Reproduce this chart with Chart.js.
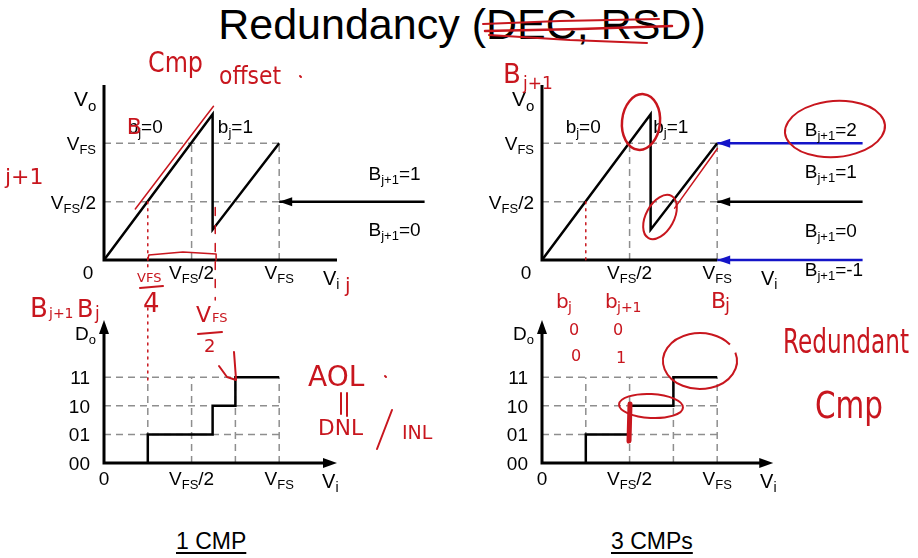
<!DOCTYPE html>
<html>
<head>
<meta charset="utf-8">
<script src="https://cdn.jsdelivr.net/npm/chart.js@4.4.1/dist/chart.umd.min.js"></script>
<style>
  html, body { margin: 0; padding: 0; background: #fff; }
  body { width: 918px; height: 558px; position: relative; overflow: hidden; font-family: "Liberation Sans", Arial, sans-serif; }
  canvas { position: absolute; left: 0; top: 0; }
  #title { position: absolute; top: 3px; left: 0; width: 924px; text-align: center; font-size: 43px; line-height: 43px; color: #000; }
  .cap { position: absolute; top: 530px; font-size: 23px; line-height: 23px; text-decoration: underline; text-underline-offset: 3px; }
</style>
</head>
<body>
<div id="title">Redundancy (DEC, RSD)</div>
<div class="cap" style="left:176px">1 CMP</div>
<div class="cap" style="left:611px">3 CMPs</div>
<canvas id="chartD" width="918" height="558"></canvas>
<canvas id="chartC" width="918" height="558"></canvas>
<canvas id="chartB" width="918" height="558"></canvas>
<canvas id="chartA" width="918" height="558"></canvas>
<script>
// ---- data: x = Vi / VFS, y = Vo / VFS ----
const residueVi = [0, 0.62, 0.62, 1];
const residueVo = [0, 1.25, 0.26, 1];
const bitNames = ['0', '1'];

// levels the next stage decides on (arrows), and the codes between them
const arrowTail = 1.83;
const oneCmpLevels = [0.5];
const oneCmpCodes = ['1', '0'];
const threeCmpLevels = [1, 0.5, 0];
const threeCmpCodes = ['2', '1', '0', '-1'];

// digital output
const codeNames = ['00', '01', '10', '11'];
const oneCmpSteps = [0.25, 0.62, 0.75];
const threeCmpSteps = [0.25, 0.5, 0.75];

const vfsTicks = [0.5, 1];
const vfsTickText = [['V', 'FS', '/2'], ['V', 'FS']];
const quarterTicks = [0.25, 0.5, 0.75, 1];

const FONT = '"Liberation Sans", Arial, sans-serif';
const HAND = '"DejaVu Sans", sans-serif';
const RED = '#c8161e';
const BLUE = '#1414c8';
const GUIDE = '#8e8e8e';

// per-canvas overlay drawing (axes, labels, pen notes)
const overlays = {};

// text with alternating normal / subscript parts
function rich(ctx, parts, x, y, align, size) {
    size = size || 19;
    const sub = Math.round(size * 0.7);
    let w = 0;
    parts.forEach((p, i) => {
        ctx.font = (i % 2 ? sub : size) + 'px ' + FONT;
        w += ctx.measureText(p).width;
    });
    let cx = align === 'right' ? x - w : align === 'center' ? x - w / 2 : x;
    ctx.fillStyle = '#000';
    ctx.textAlign = 'left';
    ctx.textBaseline = 'alphabetic';
    parts.forEach((p, i) => {
        ctx.font = (i % 2 ? sub : size) + 'px ' + FONT;
        ctx.fillText(p, cx, y + (i % 2 ? Math.round(size * 0.22) : 0));
        cx += ctx.measureText(p).width;
    });
}

function head(ctx, x0, y0, x1, y1, color, len, half) {
    const a = Math.atan2(y1 - y0, x1 - x0);
    ctx.save();
    ctx.translate(x1, y1);
    ctx.rotate(a);
    ctx.fillStyle = color;
    ctx.beginPath();
    ctx.moveTo(0, 0);
    ctx.lineTo(-len, -half);
    ctx.lineTo(-len, half);
    ctx.closePath();
    ctx.fill();
    ctx.restore();
}

function drawAxes(ctx, X, Y, xEnd, yEnd, heads) {
    ctx.save();
    ctx.strokeStyle = '#000';
    ctx.lineWidth = 3;
    ctx.lineJoin = 'miter';
    ctx.beginPath();
    ctx.moveTo(X(0), Y(yEnd) + (heads ? 8 : 0));
    ctx.lineTo(X(0), Y(0));
    ctx.lineTo(X(xEnd) - (heads ? 8 : 0), Y(0));
    ctx.stroke();
    ctx.restore();
    if (heads) {
        head(ctx, X(0), Y(0), X(0), Y(yEnd), '#000', 14, 5);
        head(ctx, X(0), Y(0), X(xEnd), Y(0), '#000', 14, 5);
    }
}

// red pen helpers for the handwritten notes
function pen(ctx, pts, w, dash) {
    ctx.save();
    ctx.strokeStyle = RED;
    ctx.lineWidth = w || 2;
    ctx.lineCap = 'round';
    ctx.lineJoin = 'round';
    if (dash) ctx.setLineDash(dash);
    ctx.beginPath();
    pts.forEach((p, i) => i ? ctx.lineTo(p[0], p[1]) : ctx.moveTo(p[0], p[1]));
    ctx.stroke();
    ctx.restore();
}
function loop(ctx, cx, cy, rx, ry, rot, a0, a1, w) {
    ctx.save();
    ctx.strokeStyle = RED;
    ctx.lineWidth = w || 2;
    ctx.beginPath();
    ctx.ellipse(cx, cy, rx, ry, rot, a0, a1);
    ctx.stroke();
    ctx.restore();
}
function scrawl(ctx, text, x, y, size, maxW) {
    ctx.save();
    ctx.fillStyle = RED;
    ctx.font = size + 'px ' + HAND;
    ctx.textAlign = 'left';
    ctx.textBaseline = 'alphabetic';
    if (maxW) ctx.fillText(text, x, y, maxW); else ctx.fillText(text, x, y);
    ctx.restore();
}

function seg(x0, y0, x1, y1) { return [{ x: x0, y: y0 }, { x: x1, y: y1 }]; }
function stairs(steps) {
    const out = [];
    steps.forEach((s, i) => out.push({ x: s, y: i }, { x: s, y: i + 1 }));
    out.push({ x: 1, y: steps.length });
    return out;
}
function guides(hLevels, hEnd, vLevels, vEnd) {
    const g = [];
    hLevels.forEach(l => g.push(seg(0, l, hEnd, l)));
    vLevels.forEach(l => g.push(seg(l, 0, l, vEnd)));
    return g.map(d => ({ data: d, borderColor: GUIDE, borderWidth: 1.5, borderDash: [7, 5], order: 5 }));
}

const slidePlugin = {
    id: 'slide',
    afterDatasetsDraw(chart) {
        const ctx = chart.ctx;
        chart.data.datasets.forEach((ds, i) => {
            if (!ds.arrow) return;
            const p = chart.getDatasetMeta(i).data;
            const a = p[p.length - 2], b = p[p.length - 1];
            head(ctx, a.x, a.y, b.x, b.y, ds.borderColor, 13, 4.5);
        });
    },
    afterDraw(chart) {
        const X = v => chart.scales.x.getPixelForValue(v);
        const Y = v => chart.scales.y.getPixelForValue(v);
        overlays[chart.canvas.id](chart.ctx, X, Y);
    }
};

function makeChart(id, pad, xMax, yMax, datasets, draw) {
    overlays[id] = draw;
    datasets.forEach(ds => {
        ds.showLine = true;
        ds.pointRadius = 0;
        ds.clip = false;
        ds.fill = false;
        if (ds.borderWidth === undefined) ds.borderWidth = 2.5;
        if (ds.borderColor === undefined) ds.borderColor = '#000';
    });
    return new Chart(document.getElementById(id), {
        type: 'scatter',
        data: { datasets },
        options: {
            responsive: false,
            animation: false,
            devicePixelRatio: 1,
            events: [],
            layout: { padding: pad },
            scales: {
                x: { type: 'linear', min: 0, max: xMax, display: false },
                y: { type: 'linear', min: 0, max: yMax, display: false }
            },
            plugins: { legend: { display: false }, tooltip: { enabled: false } }
        },
        plugins: [slidePlugin]
    });
}

function residueLabels(ctx, X, Y, bjRight) {
    vfsTicks.forEach((v, i) => {
        rich(ctx, vfsTickText[i], X(0) - 8, Y(v) + 7, 'right');
        rich(ctx, vfsTickText[i], X(v), Y(0) + 19, 'center');
    });
    rich(ctx, ['0'], X(0) - 16, Y(0) + 19, 'center');
    rich(ctx, ['V', 'i'], X(1.25), Y(0) + 25, 'left', 20);
    rich(ctx, ['V', 'o'], X(0) - 30, Y(1.32), 'left', 21);
    rich(ctx, ['b', 'j', '=' + bitNames[0]], X(0.135), Y(1.09));
    rich(ctx, ['b', 'j', '=' + bitNames[1]], X(bjRight), Y(1.09));
}

function codeAxisLabels(ctx, X, Y) {
    codeNames.forEach((c, i) => rich(ctx, [c], X(0) - 14, Y(i) + 7, 'right'));
    rich(ctx, ['0'], X(0), Y(0) + 22, 'center');
    vfsTicks.forEach((v, i) => rich(ctx, vfsTickText[i], X(v), Y(0) + 22, 'center'));
    rich(ctx, ['V', 'i'], X(1.245), Y(0) + 25, 'left', 20);
    rich(ctx, ['D', 'o'], X(0) - 29, Y(4.3), 'left', 19);
}

// ---- top left: residue, 1 comparator ----
makeChart('chartA', { left: 104, top: 85, right: 581, bottom: 298 }, 1.33, 1.5, [
    { data: residueVi.map((x, i) => ({ x, y: residueVo[i] })), order: 1 },
    ...oneCmpLevels.map(l => ({ data: seg(arrowTail, l, 1, l), arrow: true, order: 2 })),
    ...guides(vfsTicks, 1, vfsTicks, 1)
], (ctx, X, Y) => {
    drawAxes(ctx, X, Y, 1.33, 1.5, false);
    residueLabels(ctx, X, Y, 0.65);
    const codeY = [0.69, 0.21];
    oneCmpCodes.forEach((c, i) => rich(ctx, ['B', 'j+1', '=' + c], X(1.51), Y(codeY[i])));

    // notes
    pen(ctx, [[483, 24], [560, 21], [659, 19]]);
    pen(ctx, [[485, 31], [580, 29], [672, 26]], 2.5);
    pen(ctx, [[489, 35], [570, 40], [647, 43]]);
    scrawl(ctx, 'Cmp', 148, 72, 28, 55);
    scrawl(ctx, 'offset', 219, 84, 24, 62);
    pen(ctx, [[300, 76], [301, 77]], 2);
    scrawl(ctx, 'j+1', 5, 184, 22);
    scrawl(ctx, 'B', X(0.135) - 1, Y(1.09) + 1, 22);
    pen(ctx, [[X(0.19) - 2, Y(0.42) - 2], [X(0.6) - 2, Y(1.23) - 2], [X(0.625), Y(1.3) - 2]], 1.5);
    pen(ctx, [[X(0.25), Y(0.5)], [X(0.25), 268]], 1.5, [2, 5]);
    pen(ctx, [[X(0.25), 308], [X(0.25), 385]], 1.5, [2, 5]);
    pen(ctx, [[X(0.635), Y(0.45)], [X(0.635), 300]], 1.5, [8, 10]);
    pen(ctx, [[X(0.25), Y(0)], [X(0.25) + 1, Y(0) - 5], [X(0.45), Y(0) - 8], [X(0.64), Y(0) - 6], [X(0.64), Y(0)]], 1.5);
    scrawl(ctx, 'VFS', 137, 282, 13);
    pen(ctx, [[140, 288], [163, 286]]);
    scrawl(ctx, '4', 143, 312, 26);
    scrawl(ctx, 'j', 345, 292, 20);
});

// ---- top right: residue, 3 comparators ----
makeChart('chartB', { left: 542, top: 85, right: 143, bottom: 298 }, 1.33, 1.5, [
    { data: residueVi.map((x, i) => ({ x, y: residueVo[i] })), order: 1 },
    ...threeCmpLevels.map(l => ({ data: seg(arrowTail, l, 1, l), arrow: true, order: 2, borderColor: l === 0.5 ? '#000' : BLUE })),
    ...guides(vfsTicks, 1, vfsTicks, 1)
], (ctx, X, Y) => {
    drawAxes(ctx, X, Y, 1, 1.5, false);
    residueLabels(ctx, X, Y, 0.635);
    const codeY = [1.06, 0.70, 0.20, -0.14];
    threeCmpCodes.forEach((c, i) => rich(ctx, ['B', 'j+1', '=' + c], X(1.50), Y(codeY[i])));

    scrawl(ctx, 'B', 503, 83, 26);
    scrawl(ctx, 'j+1', 523, 89, 17);
    loop(ctx, 641, 122, 19, 28, 0.1, 0, Math.PI * 2.15, 2.5);
    loop(ctx, 660, 217, 14, 24, 0.5, 0, Math.PI * 2);
    pen(ctx, [[X(0.74) + 3, Y(0.47) + 3], [X(0.99) + 2, Y(0.99) + 4]], 1.5);
    loop(ctx, 835, 129, 50, 28, -0.08, 0.4, Math.PI * 2.25);
    pen(ctx, [[X(0.25), Y(0.5)], [X(0.25), Y(0)]], 1.5, [2, 5]);
    scrawl(ctx, 'B', 711, 308, 22);
    scrawl(ctx, 'j', 725, 311, 18);
});

// ---- bottom left: output code, 1 comparator ----
makeChart('chartC', { left: 104, top: 320, right: 581, bottom: 95 }, 1.33, 5, [
    { data: stairs(oneCmpSteps), order: 1 },
    ...guides([1, 2, 3], 1, quarterTicks, 3)
], (ctx, X, Y) => {
    drawAxes(ctx, X, Y, 1.33, 5, true);
    codeAxisLabels(ctx, X, Y);

    scrawl(ctx, 'B', 30, 317, 26);
    scrawl(ctx, 'j+1', 49, 318, 14);
    scrawl(ctx, 'B', 77, 317, 24);
    scrawl(ctx, 'j', 95, 319, 17);
    scrawl(ctx, 'V', 196, 322, 22);
    scrawl(ctx, 'FS', 212, 322, 13);
    pen(ctx, [[198, 334], [222, 332]]);
    scrawl(ctx, '2', 204, 352, 18);
    pen(ctx, [[234, 352], [236, 379]]);
    pen(ctx, [[219, 366], [227, 377], [236, 380]]);
    scrawl(ctx, 'AOL', 308, 386, 28, 58);
    pen(ctx, [[385, 376], [386, 377]]);
    pen(ctx, [[341, 393], [341, 414]]);
    pen(ctx, [[347, 393], [347, 416]]);
    scrawl(ctx, 'DNL', 318, 435, 22, 45);
    pen(ctx, [[392, 410], [377, 449]]);
    scrawl(ctx, 'INL', 402, 439, 19, 45);
});

// ---- bottom right: output code, 3 comparators ----
makeChart('chartD', { left: 542, top: 320, right: 143, bottom: 95 }, 1.33, 5, [
    { data: stairs(threeCmpSteps), order: 1 },
    ...guides([1, 2, 3], 1, quarterTicks, 3)
], (ctx, X, Y) => {
    drawAxes(ctx, X, Y, 1.32, 5, true);
    codeAxisLabels(ctx, X, Y);

    scrawl(ctx, 'b', 556, 308, 20);
    scrawl(ctx, 'j', 568, 312, 14);
    scrawl(ctx, 'b', 605, 308, 20);
    scrawl(ctx, 'j+1', 617, 312, 14);
    scrawl(ctx, '0', 569, 335, 16);
    scrawl(ctx, '0', 613, 335, 16);
    scrawl(ctx, '0', 571, 361, 16);
    scrawl(ctx, '1', 616, 363, 16);
    scrawl(ctx, 'Redundant', 783, 353, 33, 126);
    scrawl(ctx, 'Cmp', 815, 418, 38, 68);
    loop(ctx, 651, 406, 32, 12, 0.05, 0, Math.PI * 2);
    pen(ctx, [[630, 404], [629, 441]], 5);
    loop(ctx, 700, 361, 37, 28, 0, -0.3, Math.PI * 1.8);
});
</script>
</body>
</html>
